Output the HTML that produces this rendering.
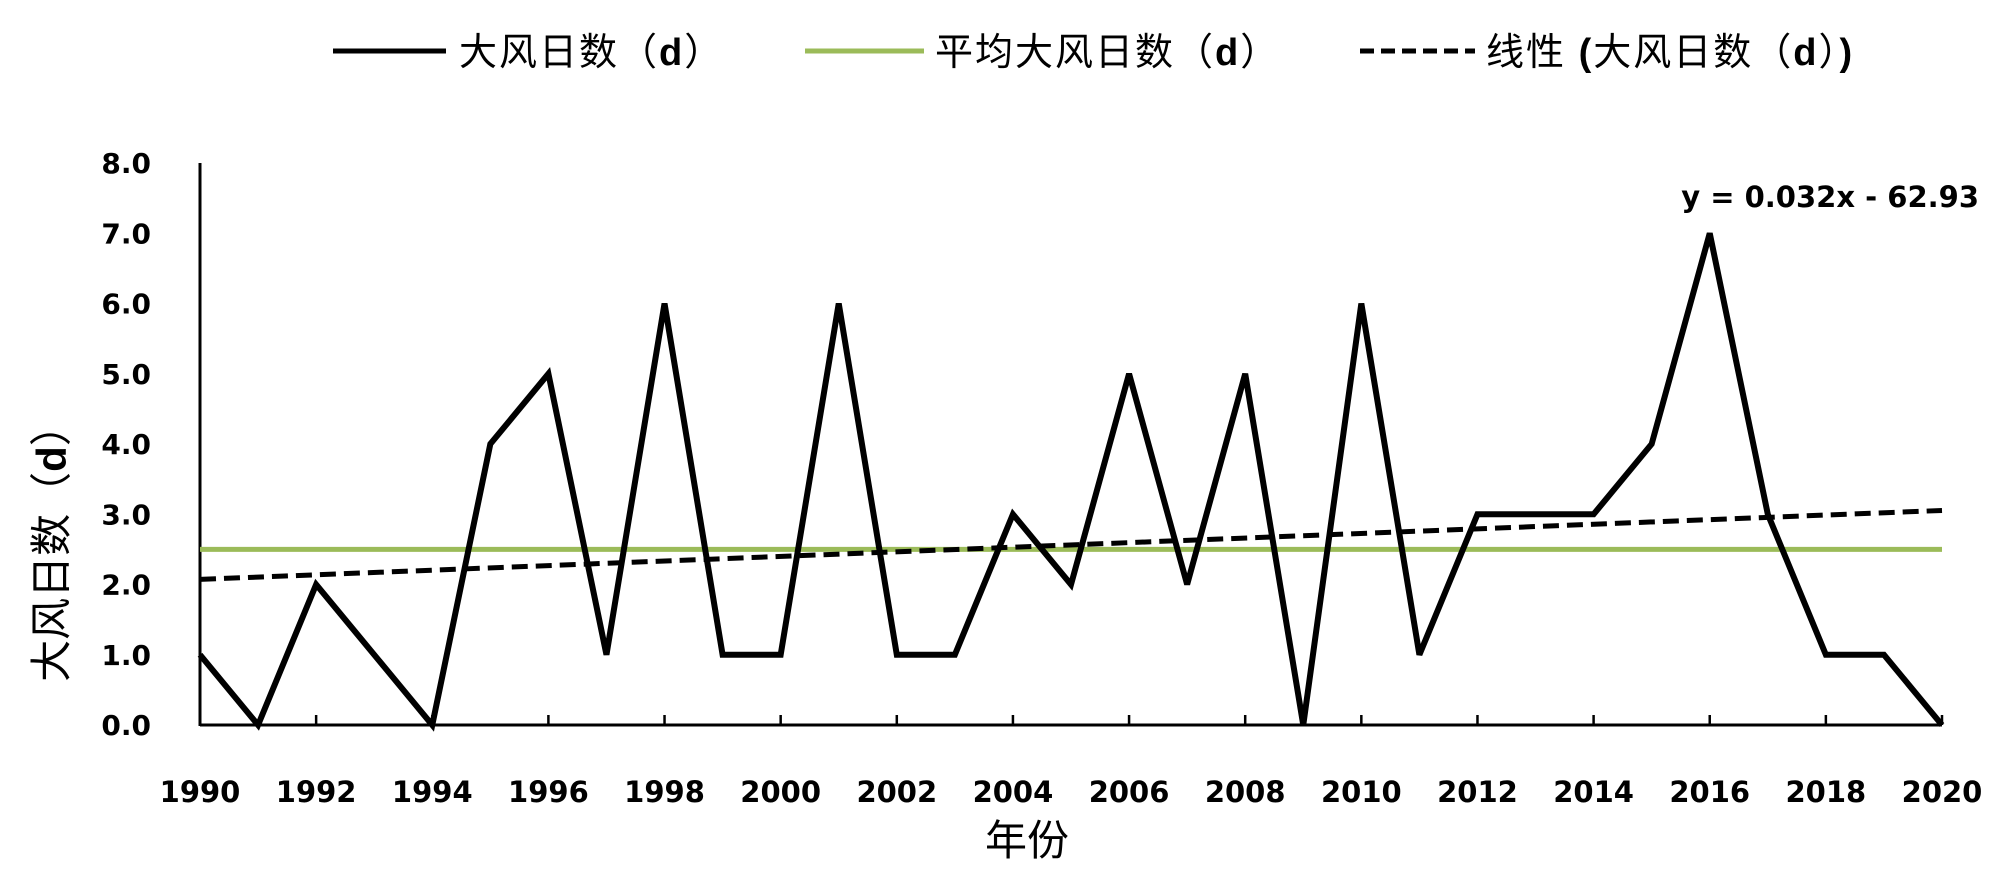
<!DOCTYPE html>
<html><head><meta charset="utf-8"><style>
html,body{margin:0;padding:0;background:#fff;overflow:hidden;}
svg{display:block;}
.t{font-family:"DejaVu Sans","Liberation Sans",sans-serif;font-weight:bold;fill:#000;}
.c{font-family:"Liberation Sans","Noto Sans CJK SC",sans-serif;fill:#000;}
.lg{letter-spacing:2px;}
</style></head><body>
<svg id="chart" width="2000" height="885" xmlns="http://www.w3.org/2000/svg">
<g>
 <g>
  <line x1="333" y1="51" x2="446" y2="51" stroke="#000" stroke-width="5"/>
  <text class="c lg" x="459" y="65" font-size="38">大风日数（<tspan font-weight="bold">d</tspan>）</text>
 </g>
 <g>
  <line x1="805" y1="51" x2="924" y2="51" stroke="#9bbb59" stroke-width="5"/>
  <text class="c lg" x="935" y="65" font-size="38">平均大风日数（<tspan font-weight="bold">d</tspan>）</text>
 </g>
 <g>
  <line x1="1360" y1="51" x2="1475" y2="51" stroke="#000" stroke-width="5" stroke-dasharray="14,7"/>
  <text class="c lg" x="1486" y="65" font-size="38">线性 <tspan font-weight="bold">(</tspan>大风日数（<tspan font-weight="bold">d</tspan>）<tspan font-weight="bold">)</tspan></text>
 </g>
</g>
<g id="axes"></g>
<g id="marks"></g>
<text class="t" x="1979" y="207" font-size="29" text-anchor="end">y = 0.032x - 62.93</text>
<text class="c" font-size="42" text-anchor="middle" transform="translate(66,543) rotate(-90)">大风日数（<tspan font-weight="bold">d</tspan>）</text>
<text class="c" x="1027" y="855" font-size="42" text-anchor="middle">年份</text>
</svg>
<script>
const years=[1990,1991,1992,1993,1994,1995,1996,1997,1998,1999,2000,2001,2002,2003,2004,2005,2006,2007,2008,2009,2010,2011,2012,2013,2014,2015,2016,2017,2018,2019,2020];
const windDays=[1,0,2,1,0,4,5,1,6,1,1,6,1,1,3,2,5,2,5,0,6,1,3,3,3,4,7,3,1,1,0];
const meanValue=[2.5];
const trendCoef=[0.0327,-63.0];
const yTicks=[0,1,2,3,4,5,6,7,8];
const xTicks=[1990,1992,1994,1996,1998,2000,2002,2004,2006,2008,2010,2012,2014,2016,2018,2020];
const NS="http://www.w3.org/2000/svg";
const X0=200,X1=1942,Y0=725,Y1=163;
const sx=v=>X0+(v-1990)/(2020-1990)*(X1-X0);
const sy=v=>Y0-(v-0)/(8-0)*(Y0-Y1);
const axes=document.getElementById('axes'),marks=document.getElementById('marks');
function mk(tag,attrs,parent){const e=document.createElementNS(NS,tag);for(const k in attrs)e.setAttribute(k,attrs[k]);parent.appendChild(e);return e;}
let e=mk('line',{x1:X0,y1:Y1,x2:X0,y2:Y0+1,stroke:'#000','stroke-width':3},axes);


e=mk('line',{x1:X0,y1:Y0,x2:X1,y2:Y0,stroke:'#000','stroke-width':3},axes);


yTicks.forEach(v=>{const t=mk('text',{x:151,y:sy(v)+10,'font-size':28,'text-anchor':'end',class:'t'},axes);t.textContent=v.toFixed(1);

});
xTicks.forEach(v=>{const l=mk('line',{x1:sx(v),y1:Y0-10,x2:sx(v),y2:Y0,stroke:'#000','stroke-width':2.5},axes);


const t=mk('text',{x:sx(v),y:802,'font-size':29,'text-anchor':'middle',class:'t'},axes);t.textContent=v;

});
e=mk('line',{x1:X0,y1:sy(meanValue[0]),x2:X1,y2:sy(meanValue[0]),stroke:'#9bbb59','stroke-width':5},marks);


const tr=x=>trendCoef[0]*x+trendCoef[1];
e=mk('line',{x1:X0,y1:sy(tr(1990)),x2:X1,y2:sy(tr(2020)),stroke:'#000','stroke-width':5,'stroke-dasharray':'16,8'},marks);


e=mk('polyline',{points:years.map((y,i)=>sx(y)+','+sy(windDays[i])).join(' '),fill:'none',stroke:'#000','stroke-width':6,'stroke-linejoin':'miter','stroke-miterlimit':3},marks);


</script>
</body></html>
